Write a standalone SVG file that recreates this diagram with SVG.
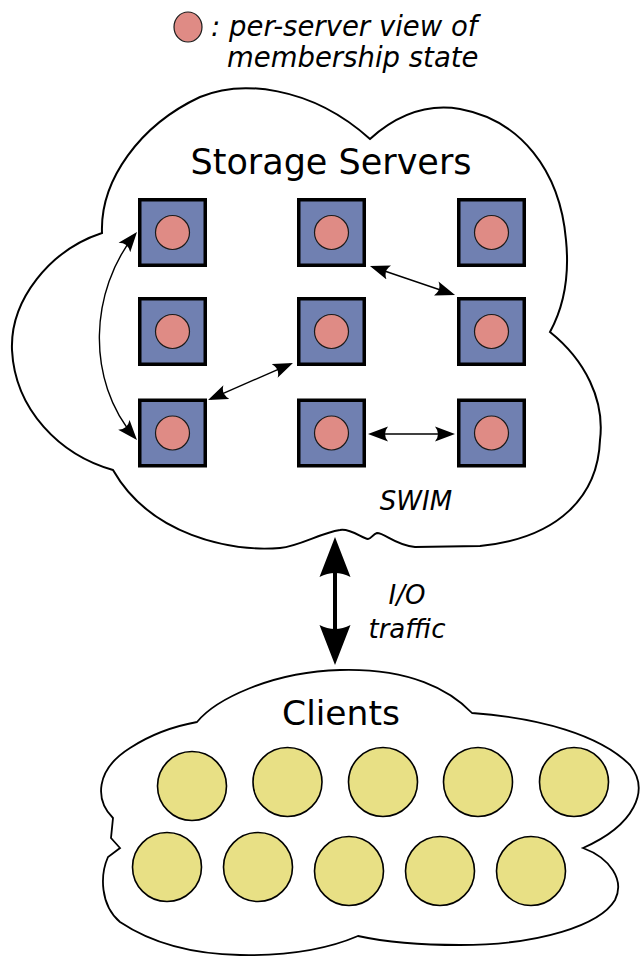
<svg xmlns="http://www.w3.org/2000/svg" width="641" height="957" viewBox="0 0 641 957">
<style>
.cloud{fill:#ffffff;stroke:#000;stroke-width:2;stroke-linejoin:miter}
.srv{fill:#7080b1;stroke:#000;stroke-width:3.5}
.st{fill:#df8b85;stroke:#1a1a1a;stroke-width:1.2}
.cl{fill:#e8e085;stroke:#000;stroke-width:1.6}
.lbl{font-family:"DejaVu Sans","Liberation Sans",sans-serif;fill:#000}
.it{font-style:italic}
.conn{fill:none;stroke:#000;stroke-width:1.4}
.io{fill:none;stroke:#000;stroke-width:4}
</style>
<defs>
<marker id="ah" viewBox="-20 -8 20 16" markerWidth="20" markerHeight="16" refX="-3" refY="0" orient="auto-start-reverse" markerUnits="userSpaceOnUse">
<path d="M0,0 L-20,-7.5 Q-14,0 -20,7.5 Z" fill="#000"/>
</marker>
<marker id="ahb" viewBox="-40 -16 40 32" markerWidth="40" markerHeight="32" refX="-12" refY="0" orient="auto-start-reverse" markerUnits="userSpaceOnUse">
<path d="M0,0 L-40,-15.5 Q-32,0 -40,15.5 Z" fill="#000"/>
</marker>
</defs>

<g id="legend">
<ellipse cx="188" cy="27" rx="14" ry="15" class="st"/>
<text class="lbl it" x="211" y="36" font-size="27.5">: per-server view of</text>
<text class="lbl it" x="227" y="67" font-size="27.5">membership state</text>
</g>

<g id="storage-cloud">
<path class="cloud" d="M102,233 C100,180 140,125 200,97 C240,80 310,85 370,139 C400,112 430,104 460,109 C520,120 560,170 566,240 C570,280 562,310 550,332 C585,360 605,400 600,440 C598,495 560,538 480,546 L415,547 C395,545 385,533 377,533 C373,534 371,539 368,539 C362,538 350,528 340,530 C320,533 300,546 280,548 C230,552 150,535 113,470 C60,455 15,410 12,350 C10,300 50,250 102,233 Z"/>
<text class="lbl" x="331" y="174" font-size="35" text-anchor="middle">Storage Servers</text>
<text class="lbl it" x="416" y="510" font-size="26" text-anchor="middle">SWIM</text>
</g>

<g id="server-1-1"><rect class="srv" x="139.75" y="199.75" width="65.5" height="65.5"/><circle class="st" cx="172.5" cy="232.5" r="17"/></g>
<g id="server-1-2"><rect class="srv" x="298.75" y="199.75" width="65.5" height="65.5"/><circle class="st" cx="331.5" cy="232.5" r="17"/></g>
<g id="server-1-3"><rect class="srv" x="458.75" y="199.75" width="65.5" height="65.5"/><circle class="st" cx="491.5" cy="232.5" r="17"/></g>
<g id="server-2-1"><rect class="srv" x="139.75" y="298.75" width="65.5" height="65.5"/><circle class="st" cx="172.5" cy="331.5" r="17"/></g>
<g id="server-2-2"><rect class="srv" x="298.75" y="298.75" width="65.5" height="65.5"/><circle class="st" cx="331.5" cy="331.5" r="17"/></g>
<g id="server-2-3"><rect class="srv" x="458.75" y="298.75" width="65.5" height="65.5"/><circle class="st" cx="491.5" cy="331.5" r="17"/></g>
<g id="server-3-1"><rect class="srv" x="139.75" y="400.25" width="65.5" height="65.5"/><circle class="st" cx="172.5" cy="433" r="17"/></g>
<g id="server-3-2"><rect class="srv" x="298.75" y="400.25" width="65.5" height="65.5"/><circle class="st" cx="331.5" cy="433" r="17"/></g>
<g id="server-3-3"><rect class="srv" x="458.75" y="400.25" width="65.5" height="65.5"/><circle class="st" cx="491.5" cy="433" r="17"/></g>

<g id="clients-cloud">
<path class="cloud" style="stroke-width:1.8" d="M197,722 C215,700 270,672 340,670 C410,668 450,690 472,713 C540,718 600,735 630,765 C650,790 635,825 583,848 C610,858 625,880 615,900 C600,925 540,945 460,945 C420,945 390,943 358,936 C330,948 290,956 240,955 C190,954 150,942 120,922 C100,905 100,875 108,857 L120,848 L111,838 L113,818 C95,800 95,770 130,748 C150,735 175,726 197,722 Z"/>
<text class="lbl" x="341" y="725" font-size="34.5" text-anchor="middle">Clients</text>
</g>

<g id="client-1"><circle class="cl" cx="192" cy="786" r="34.5"/></g>
<g id="client-2"><circle class="cl" cx="287.5" cy="782" r="34.5"/></g>
<g id="client-3"><circle class="cl" cx="383" cy="782" r="34.5"/></g>
<g id="client-4"><circle class="cl" cx="478" cy="782" r="34.5"/></g>
<g id="client-5"><circle class="cl" cx="574" cy="782" r="34.5"/></g>
<g id="client-6"><circle class="cl" cx="167" cy="867" r="34.5"/></g>
<g id="client-7"><circle class="cl" cx="258" cy="867" r="34.5"/></g>
<g id="client-8"><circle class="cl" cx="349" cy="871" r="34.5"/></g>
<g id="client-9"><circle class="cl" cx="440" cy="871" r="34.5"/></g>
<g id="client-10"><circle class="cl" cx="531" cy="871" r="34.5"/></g>

<g id="connectors">
<path class="conn" marker-start="url(#ah)" marker-end="url(#ah)" d="M135.1,234.3 C90,290 85,380 135,437.7"/>
<line class="conn" marker-start="url(#ah)" marker-end="url(#ah)" x1="372.8" y1="267" x2="452.2" y2="294"/>
<line class="conn" marker-start="url(#ah)" marker-end="url(#ah)" x1="210.8" y1="398.8" x2="290.2" y2="364.2"/>
<line class="conn" marker-start="url(#ah)" marker-end="url(#ah)" x1="371" y1="434" x2="452" y2="434"/>
<line class="io" marker-start="url(#ahb)" marker-end="url(#ahb)" x1="335" y1="549" x2="335" y2="653"/>
<text class="lbl it" x="407" y="604" font-size="26" text-anchor="middle">I/O</text>
<text class="lbl it" x="407" y="638" font-size="26" text-anchor="middle">traffic</text>
</g>
</svg>
